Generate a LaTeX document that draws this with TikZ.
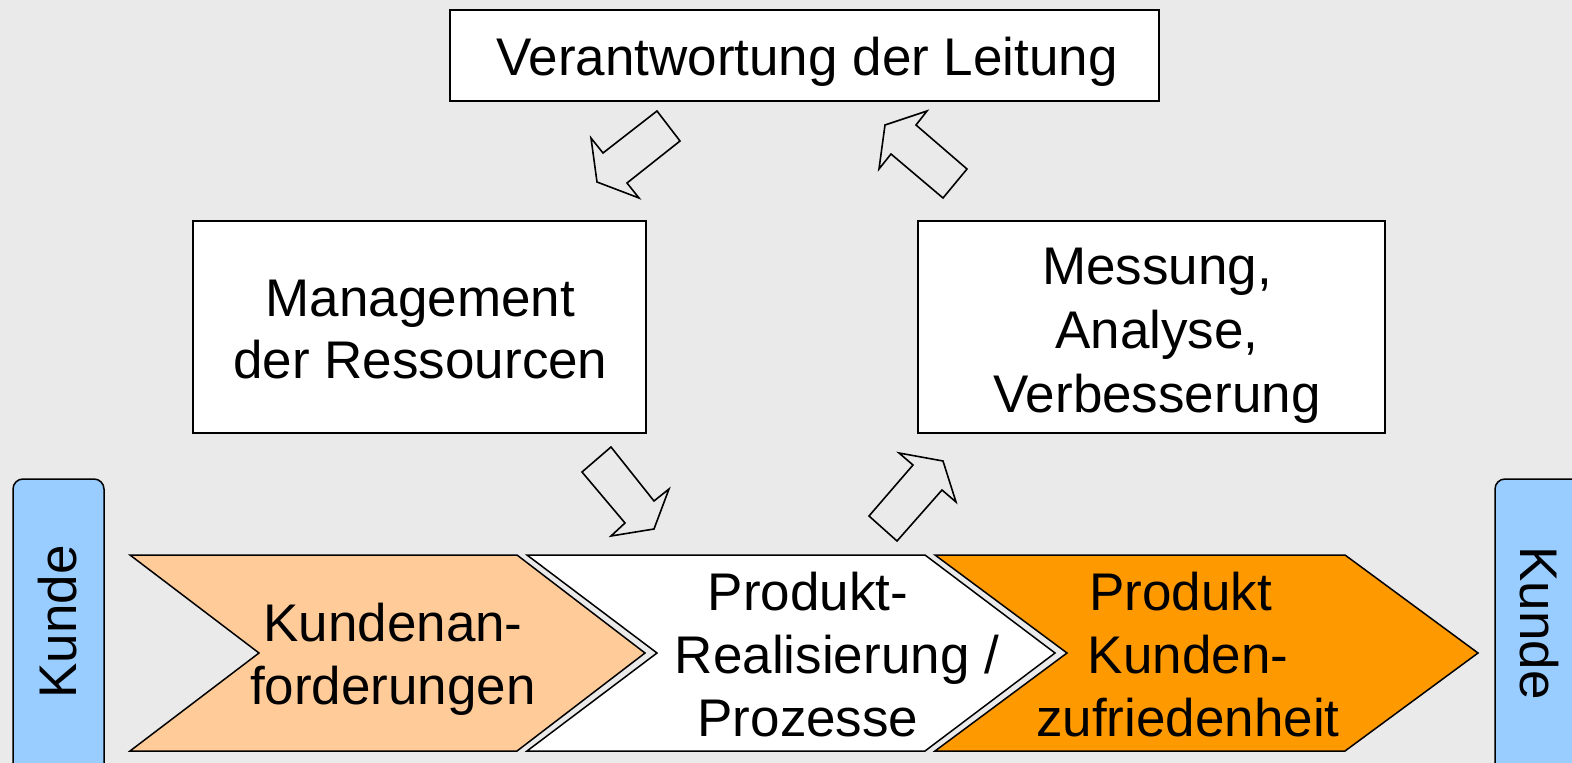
\documentclass[tikz,border=0pt]{standalone}
\usepackage{fontspec}
\setmainfont{Liberation Sans}
\definecolor{bggray}{HTML}{EAEAEA}
\definecolor{peach}{HTML}{FFCC99}
\definecolor{deeporange}{HTML}{FF9900}
\definecolor{skyblue}{HTML}{99CCFF}
% centred lines; the baseline of the first line is the box baseline
\newcommand{\stacklines}[1]{\begin{tabular}[t]{@{}c@{}}#1\end{tabular}}
% lines placed inside a framed box: #1 extra left space, #2 raise of first baseline above the centre
\newcommand{\boxlines}[3]{\raisebox{#2}[0pt][0pt]{\hspace*{#1}\stacklines{#3}}}
\begin{document}
\begin{tikzpicture}[x=1pt,y=-1pt,
  bigtext/.style={font=\fontsize{53}{63}\selectfont, inner sep=0pt},
  boxnode/.style={draw=black, line width=1.5pt, fill=white, bigtext},
  blockarrow/.style={draw=black, line width=1.6pt, line join=miter},
  chevron/.style={draw=black, line width=1.5pt, line join=miter},
  kundebox/.style={draw=black, line width=1.5pt, fill=skyblue, rounded corners=10pt}]
\useasboundingbox (0,0) rectangle (1572,763);
\fill[bggray] (0,0) rectangle (1572,763);
\clip (0,0) rectangle (1572,763);

% main boxes
\node[boxnode, minimum width=709pt, minimum height=91pt] (leitung) at (804.5,55.5)
  {\boxlines{5pt}{-19.5pt}{Verantwortung der Leitung}};
\node[boxnode, font=\fontsize{53}{62}\selectfont, minimum width=453pt, minimum height=212pt] (ressourcen) at (419.5,327)
  {\boxlines{2pt}{11pt}{Management\\der Ressourcen}};
\node[boxnode, font=\fontsize{53}{64}\selectfont, minimum width=467pt, minimum height=212pt] (messung) at (1151.5,327)
  {\boxlines{11pt}{43pt}{Messung,\\Analyse,\\Verbesserung}};

% block arrows of the cycle
\draw[blockarrow] (657,111) -- (680,141) -- (627,183) -- (639,198) -- (597,182) -- (591,138) -- (603,153) -- cycle;
\draw[blockarrow] (611,447) -- (582,472) -- (625,523) -- (611,536) -- (654,529) -- (669,489) -- (654,501) -- cycle;
\draw[blockarrow] (869,516) -- (897,541) -- (942,490) -- (956,502) -- (943,461) -- (899,453) -- (913,465) -- cycle;
\draw[blockarrow] (967,169) -- (943,198) -- (891,154) -- (879,169) -- (885,125) -- (927,111) -- (916,125) -- cycle;

% process chevrons
\draw[chevron, fill=peach] (130,555) -- (517,555) -- (645,653) -- (517,751) -- (130,751) -- (259,653) -- cycle;
\draw[chevron, fill=white] (527,555) -- (925,555) -- (1055,653) -- (925,751) -- (527,751) -- (657,653) -- cycle;
\draw[chevron, fill=deeporange] (935,555) -- (1345,555) -- (1478,653) -- (1345,751) -- (935,751) -- (1067,653) -- cycle;

\node[bigtext, anchor=base] (anforderungen) at (393,641) {\stacklines{Kundenan-\\forderungen}};
\node[bigtext, anchor=base] (realisierung) at (837,610)
  {\stacklines{Produkt-\hspace*{58pt}\\Realisierung /\\Prozesse\hspace*{58pt}}};
\node[bigtext, anchor=base] (zufriedenheit) at (1188,610)
  {\stacklines{Produkt\hspace*{15pt}\\Kunden-\\zufriedenheit}};

% customer bars
\draw[kundebox] (13,479) rectangle (104,790);
\node[bigtext, rotate=90] (kundelinks) at (58,622) {Kunde};
\draw[kundebox] (1495,479) rectangle (1590,790);
\node[bigtext, rotate=-90] (kunderechts) at (1539,623) {Kunde};
\end{tikzpicture}
\end{document}
